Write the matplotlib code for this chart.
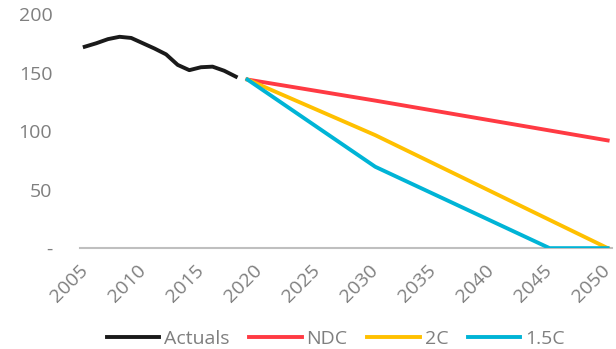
import matplotlib.pyplot as plt

# data
actual_years = list(range(2005, 2019))
actuals = [172, 175, 178.5, 180.5, 179.5, 175, 170.5, 165.5, 156.5, 152, 154.5, 155, 151.5, 146.5]

ndc_years = [2019, 2030, 2050]
ndc = [144, 126, 92]

c2_years = [2019, 2030, 2050]
c2 = [144, 96.5, 0]

c15_years = [2019, 2030, 2045, 2050]
c15 = [144, 69.5, 0, 0]

tick_years = list(range(2005, 2051, 5))
y_ticks = [0, 50, 100, 150, 200]
y_labels = ["-", "50", "100", "150", "200"]

plt.rcParams["font.family"] = ["Open Sans", "DejaVu Sans"]
grey = "#7f7f7f"

fig = plt.figure(figsize=(6.16, 3.49), dpi=100)
ax = fig.add_axes([0.13, 0.289, 0.864, 0.671])

ax.plot(actual_years, actuals, color="#1a1a1a", lw=2.8, label="Actuals")
ax.plot(ndc_years, ndc, color="#ff3a43", lw=2.8, label="NDC")
ax.plot(c2_years, c2, color="#ffc000", lw=2.8, label="2C")
ax.plot(c15_years, c15, color="#00b4d6", lw=2.8, label="1.5C")

ax.set_xlim(2004.6, 2050.4)
ax.set_ylim(0, 200)
ax.set_xticks(tick_years)
ax.set_xticklabels([str(y) for y in tick_years], rotation=45, ha="right", va="center",
                   rotation_mode="anchor", color=grey, fontsize=14)
ax.set_yticks(y_ticks)
ax.set_yticklabels(y_labels, color=grey, fontsize=14)
ax.tick_params(length=0, axis="both")
ax.tick_params(axis="y", pad=20)
ax.tick_params(axis="x", pad=14)

for s in ["top", "right", "left"]:
    ax.spines[s].set_visible(False)
ax.spines["bottom"].set_color("#bfbfbf")
ax.spines["bottom"].set_linewidth(1.5)
ax.spines["bottom"].set_zorder(0)

leg = fig.legend(loc="center", bbox_to_anchor=(0.545, 0.03), ncol=4, frameon=False,
                 fontsize=14, handlelength=2.7, columnspacing=1.0, handletextpad=0.26,
                 borderpad=0)
for t in leg.get_texts():
    t.set_color(grey)

fig.savefig("out.png", dpi=100)
